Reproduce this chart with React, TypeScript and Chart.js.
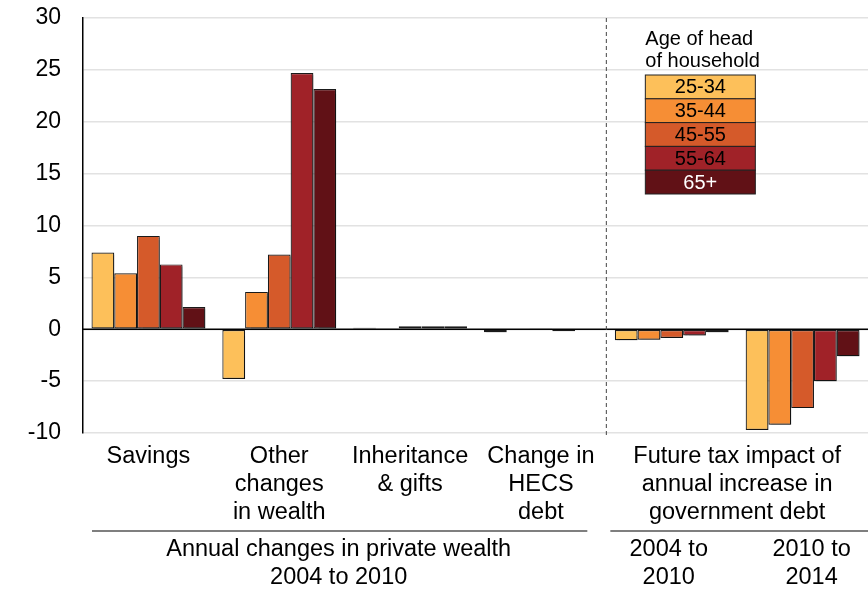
import React, { useEffect, useRef } from "react";
import { Chart, registerables } from "chart.js";

Chart.register(...registerables);

const categories: string[][] = [
  ["Savings"],
  ["Other", "changes", "in wealth"],
  ["Inheritance", "& gifts"],
  ["Change in", "HECS", "debt"],
  ["2004 to", "2010"],
  ["2010 to", "2014"],
];
const groupLabelPrivate = ["Annual changes in private wealth", "2004 to 2010"];
const groupLabelTax = ["Future tax impact of", "annual increase in", "government debt"];

const seriesNames = ["25-34", "35-44", "45-55", "55-64", "65+"];
const seriesColors = ["#FDC05A", "#F68E35", "#D55A2A", "#A02228", "#611116"];
const legendTitle = ["Age of head", "of household"];

const age25_34 = [7.4, -4.8, 0.15, -0.3, -1.05, -9.7];
const age35_44 = [5.4, 3.6, 0.05, -0.05, -1.0, -9.2];
const age45_55 = [9.0, 7.2, 0.3, 0.1, -0.85, -7.6];
const age55_64 = [6.25, 24.7, 0.3, -0.2, -0.6, -5.0];
const age65plus = [2.15, 23.15, 0.3, -0.05, -0.3, -2.6];
const seriesValues = [age25_34, age35_44, age45_55, age55_64, age65plus];

const yMin = -10;
const yMax = 30;
const yStep = 5;

const FONT = "Arial, 'Liberation Sans', sans-serif";

export default function App() {
  const ref = useRef<HTMLCanvasElement | null>(null);

  useEffect(() => {
    if (!ref.current) return;

    const shadowPlugin = {
      id: "barShadow",
      beforeDatasetsDraw(chart: any) {
        const ctx = chart.ctx;
        ctx.save();
        ctx.shadowColor = "rgba(0,0,0,0.28)";
        ctx.shadowOffsetX = 2;
        ctx.shadowOffsetY = 2;
        ctx.shadowBlur = 1;
      },
      afterDatasetsDraw(chart: any) {
        chart.ctx.restore();
      },
    };

    const decorPlugin = {
      id: "decor",
      afterDraw(chart: any) {
        const ctx = chart.ctx;
        const area = chart.chartArea;
        const x = chart.scales.x;
        const y = chart.scales.y;
        const n = categories.length;
        const gw = (area.right - area.left) / n;
        const center = (i: number) => x.getPixelForValue(i);

        ctx.save();
        // zero line
        const y0 = y.getPixelForValue(0);
        ctx.strokeStyle = "#000";
        ctx.lineWidth = 1.5;
        ctx.beginPath();
        ctx.moveTo(area.left, y0);
        ctx.lineTo(area.right, y0);
        ctx.stroke();

        // dashed divider
        const xd = (center(3) + center(4)) / 2;
        ctx.strokeStyle = "#444";
        ctx.lineWidth = 1;
        ctx.setLineDash([4, 3]);
        ctx.beginPath();
        ctx.moveTo(xd, area.top);
        ctx.lineTo(xd, area.bottom + 2);
        ctx.stroke();
        ctx.setLineDash([]);

        // category labels
        ctx.fillStyle = "#000";
        ctx.font = `23.5px ${FONT}`;
        ctx.textAlign = "center";
        ctx.textBaseline = "middle";
        const row0 = area.bottom + 24;
        const lh = 28;
        for (let i = 0; i < 4; i++) {
          categories[i].forEach((line, j) => {
            ctx.fillText(line, center(i), row0 + j * lh);
          });
        }
        const taxCenter = (center(4) + center(5)) / 2;
        groupLabelTax.forEach((line, j) => {
          ctx.fillText(line, taxCenter, row0 + j * lh);
        });

        // separator lines
        const sepY = row0 + 2 * lh + 18;
        ctx.strokeStyle = "#000";
        ctx.lineWidth = 1.2;
        ctx.beginPath();
        ctx.moveTo(area.left + 9, sepY);
        ctx.lineTo(xd - 19, sepY);
        ctx.moveTo(xd + 4, sepY);
        ctx.lineTo(area.right, sepY);
        ctx.stroke();

        const row1 = sepY + 19;
        const privCenter = (area.left + xd) / 2 - 6;
        groupLabelPrivate.forEach((line, j) => {
          ctx.fillText(line, privCenter, row1 + j * lh);
        });
        for (let i = 4; i < 6; i++) {
          categories[i].forEach((line, j) => {
            ctx.fillText(line, center(i) + (i === 5 ? 9 : -3), row1 + j * lh);
          });
        }

        // legend
        const lx = area.left + gw * 4 + 39;
        const lw = 110;
        const rh = 23.8;
        ctx.textAlign = "left";
        ctx.textBaseline = "alphabetic";
        ctx.font = `20px ${FONT}`;
        legendTitle.forEach((line, j) => {
          ctx.fillText(line, lx, 45 + j * 22);
        });
        const ly = 75;
        ctx.textAlign = "center";
        ctx.textBaseline = "middle";
        seriesNames.forEach((name, k) => {
          const top = ly + k * rh;
          ctx.fillStyle = seriesColors[k];
          ctx.fillRect(lx, top, lw, rh);
          ctx.strokeStyle = "#222";
          ctx.lineWidth = 1;
          ctx.strokeRect(lx, top, lw, rh);
          ctx.fillStyle = k === 4 ? "#fff" : "#000";
          ctx.fillText(name, lx + lw / 2, top + rh / 2 + 1);
        });
        ctx.restore();
      },
    };

    const chart = new Chart(ref.current, {
      type: "bar",
      data: {
        labels: categories.map((c) => c.join(" ")),
        datasets: seriesNames.map((name, k) => ({
          label: name,
          data: seriesValues[k],
          backgroundColor: seriesColors[k],
          borderColor: "#1a1a1a",
          borderWidth: 1.2,
          borderSkipped: false,
          categoryPercentage: 0.87,
          barPercentage: 1,
        })),
      },
      options: {
        animation: false,
        responsive: false,
        maintainAspectRatio: false,
        layout: { padding: { top: 18, bottom: 156, left: 0, right: 0 } },
        plugins: {
          legend: { display: false },
          tooltip: { enabled: false },
          title: { display: false },
        },
        scales: {
          x: {
            type: "category",
            display: false,
            offset: true,
            grid: { display: false },
          },
          y: {
            min: yMin,
            max: yMax,
            afterFit(scale: any) {
              scale.width = 83;
            },
            ticks: {
              stepSize: yStep,
              color: "#000",
              font: { size: 23, family: FONT },
              padding: 2,
            },
            grid: {
              drawTicks: true,
              tickLength: 20,
              tickColor: "rgba(0,0,0,0)",
              color: "#e2e2e2",
              lineWidth: 1.5,
            },
            border: { display: true, color: "#000", width: 1.5 },
          },
        },
      },
      plugins: [shadowPlugin, decorPlugin],
    });
    return () => chart.destroy();
  }, []);

  return (
    <div style={{ position: "fixed", left: 0, top: 0, width: 868, height: 589, background: "#fff" }}>
      <canvas ref={ref} width={868} height={589} style={{ width: 868, height: 589 }} />
    </div>
  );
}
